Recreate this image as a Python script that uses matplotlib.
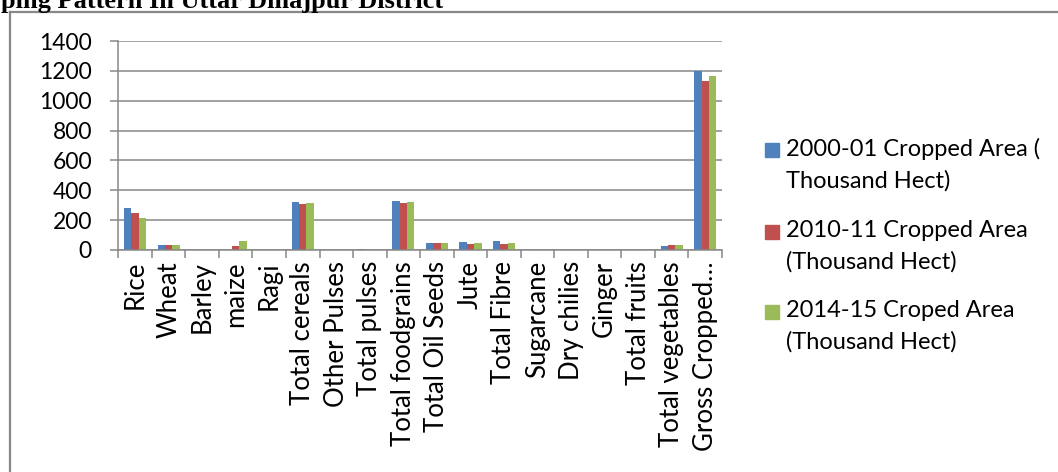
import matplotlib
matplotlib.use("Agg")
import matplotlib.pyplot as plt
import numpy as np
from matplotlib.patches import Rectangle
from matplotlib.lines import Line2D

categories = ["Rice", "Wheat", "Barley", "maize", "Ragi", "Total cereals",
              "Other Pulses", "Total pulses", "Total foodgrains", "Total Oil Seeds",
              "Jute", "Total Fibre", "Sugarcane", "Dry chilies", "Ginger",
              "Total fruits", "Total vegetables", "Gross Cropped\u2026"]
area_2000 = [280, 35, 0, 0, 0, 320, 1, 5, 327, 44, 56, 60, 0, 1, 0, 3, 24, 1200]
area_2010 = [247, 35, 0, 27, 0, 309, 0, 1, 313, 44, 40, 42, 0, 2, 0, 3, 33, 1132]
area_2014 = [215, 35, 0, 60, 0, 313, 0, 1, 320, 49, 49, 49, 0, 2, 0, 3, 33, 1166]
series_labels = ["2000-01 Cropped Area (\nThousand Hect)",
                 "2010-11 Cropped Area\n(Thousand Hect)",
                 "2014-15 Croped Area\n(Thousand Hect)"]
series_colors = ["#4F81BD", "#C0504D", "#9BBB59"]
yticks = [0, 200, 400, 600, 800, 1000, 1200, 1400]
title = "Cropping Pattern In Uttar Dinajpur District"

W, H = 1058, 472
fig = plt.figure(figsize=(W / 100, H / 100), dpi=100)
font = ["Lato", "DejaVu Sans"]
grid_c = "#878787"

ax = fig.add_axes([118.3 / W, 1 - 250 / H, (722 - 118.3) / W, (250 - 41) / H])
x = np.arange(len(categories))
bw = 0.22
for i, (vals, col) in enumerate(zip([area_2000, area_2010, area_2014], series_colors)):
    ax.bar(x + (i - 1) * bw, vals, width=bw, color=col, zorder=3)

ax.set_xlim(-0.5, len(categories) - 0.5)
ax.set_ylim(0, 1400)
ax.set_yticks(yticks)
ax.set_yticklabels([str(v) for v in yticks], family=font, fontsize=16.5)
ax.set_xticks(np.arange(len(categories) + 1) - 0.5, minor=False)
ax.set_xticklabels([])
ax.set_xticks(x, minor=True)
ax.set_xticklabels(categories, minor=True, rotation=90, family=font, fontsize=18.5,
                   ha="center", va="top")
ax.tick_params(axis="x", which="minor", length=0, pad=8)
ax.tick_params(axis="x", which="major", length=6, width=1.1, color=grid_c)
ax.tick_params(axis="y", length=6, width=1.1, color=grid_c, pad=13)
ax.yaxis.grid(True, color=grid_c, linewidth=1.1, zorder=0)
for s in ["top", "right"]:
    ax.spines[s].set_visible(False)
for s in ["left", "bottom"]:
    ax.spines[s].set_color(grid_c)
    ax.spines[s].set_linewidth(1.1)
    ax.spines[s].set_zorder(4)

# legend (manual, Excel-like)
line1_y = [150, 232, 312]
for yy, lab, col in zip(line1_y, series_labels, series_colors):
    fig.patches.append(Rectangle((765 / W, 1 - (yy + 7) / H), 14 / W, 14 / H,
                                 transform=fig.transFigure, color=col))
    fig.text(786 / W, 1 - (yy - 12) / H, lab, family=font, fontsize=17,
             va="top", ha="left", linespacing=1.55)

# outer chart border (top and left)
fig.add_artist(Line2D([10 / W, 1], [1 - 12 / H, 1 - 12 / H], color="#888888",
                      linewidth=1.6, transform=fig.transFigure))
fig.add_artist(Line2D([10 / W, 10 / W], [0, 1 - 12 / H], color="#888888",
                      linewidth=1.6, transform=fig.transFigure))

# cut-off heading above the chart (as in the reference)
fig.text(443 / W, 1 - 8 / H, title, family=["Liberation Serif"], fontweight="bold",
         fontsize=19, ha="right", va="baseline")

fig.savefig("out.png", dpi=100)
